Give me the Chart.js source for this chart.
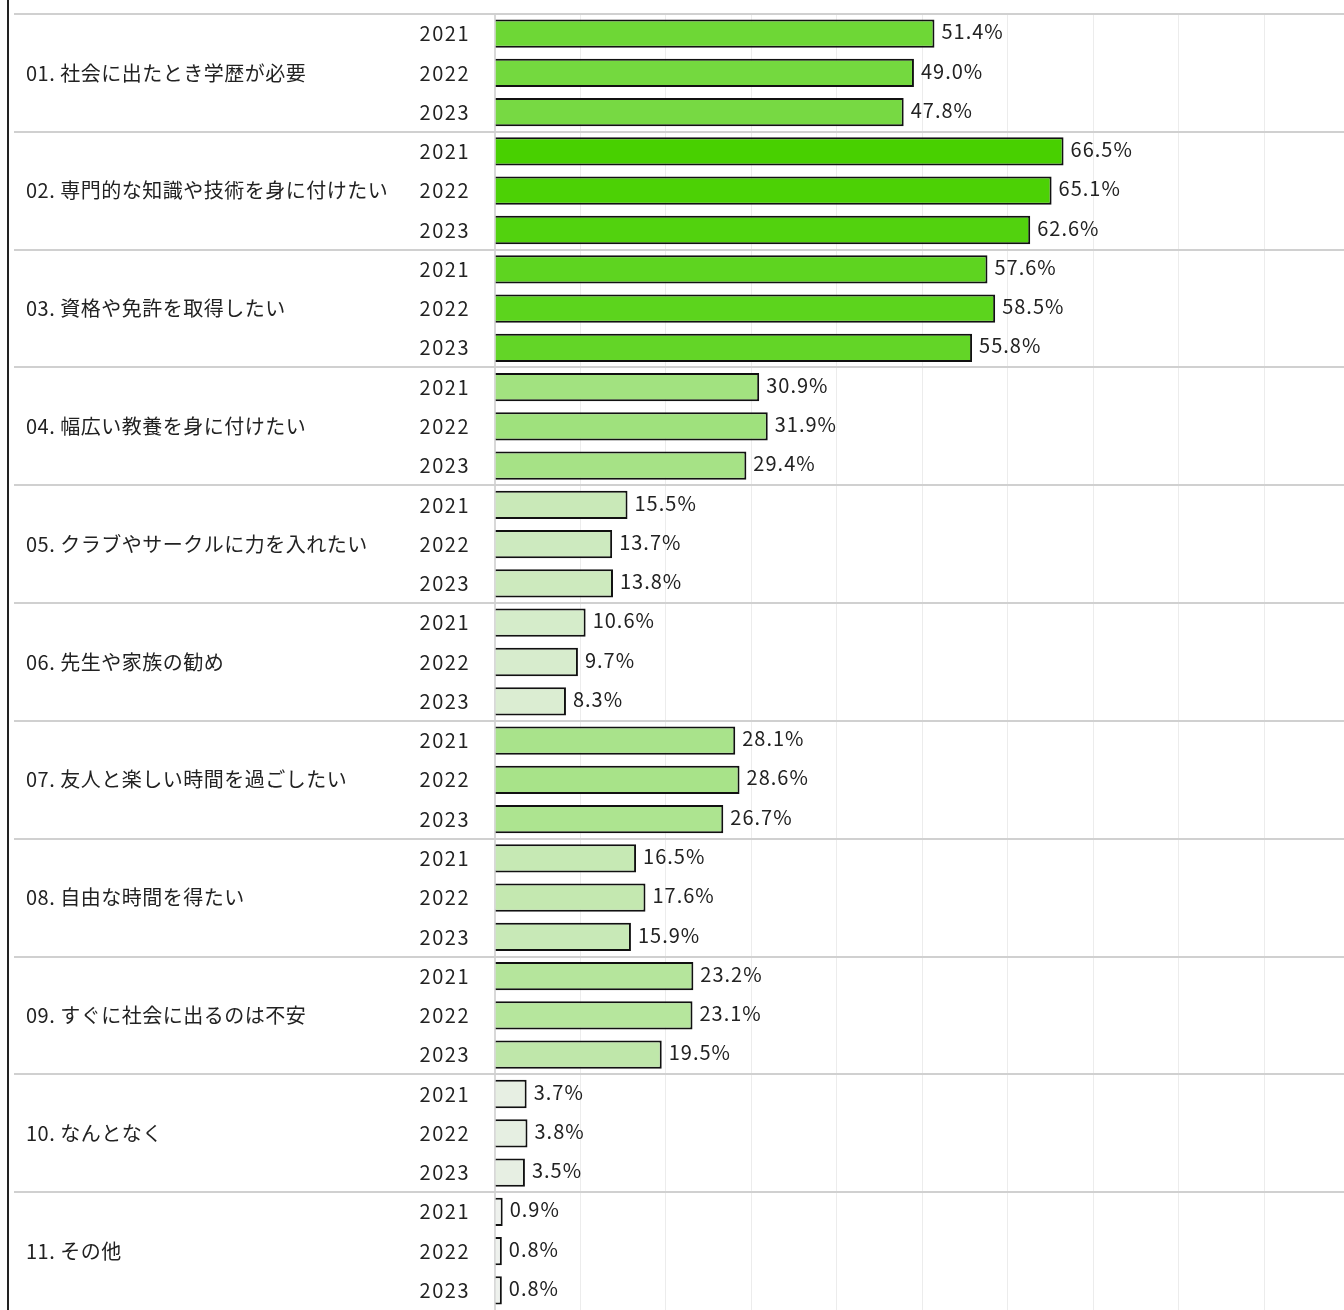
<!DOCTYPE html>
<html lang="ja">
<head>
<meta charset="utf-8">
<title>進学理由</title>
<script src="https://cdn.jsdelivr.net/npm/chart.js@4/dist/chart.umd.min.js"></script>
<style>
  html, body { margin: 0; padding: 0; background: #fff; }
  #wrap { position: relative; width: 1344px; height: 1310px; overflow: hidden; }
</style>
</head>
<body>
<div id="wrap"><canvas id="chart" width="1344" height="1310"></canvas></div>
<script>
// Data
const categories = [
    '01. 社会に出たとき学歴が必要',
    '02. 専門的な知識や技術を身に付けたい',
    '03. 資格や免許を取得したい',
    '04. 幅広い教養を身に付けたい',
    '05. クラブやサークルに力を入れたい',
    '06. 先生や家族の勧め',
    '07. 友人と楽しい時間を過ごしたい',
    '08. 自由な時間を得たい',
    '09. すぐに社会に出るのは不安',
    '10. なんとなく',
    '11. その他'
];
const years = ['2021', '2022', '2023'];
const values2021 = [51.4, 66.5, 57.6, 30.9, 15.5, 10.6, 28.1, 16.5, 23.2, 3.7, 0.9];
const values2022 = [49.0, 65.1, 58.5, 31.9, 13.7, 9.7, 28.6, 17.6, 23.1, 3.8, 0.8];
const values2023 = [47.8, 62.6, 55.8, 29.4, 13.8, 8.3, 26.7, 15.9, 19.5, 3.5, 0.8];
const xTicks = [0, 10, 20, 30, 40, 50, 60, 70, 80, 90];

const FONT = '"Noto Sans CJK JP", "Noto Sans", sans-serif';

// flatten: one bar per category/year
const labels = [];
const values = [];
categories.forEach((c, i) => {
    [values2021, values2022, values2023].forEach((arr, j) => {
        labels.push(years[j]);
        values.push(arr[i]);
    });
});

// colour scale: pale grey -> strong green by value
const maxVal = Math.max(...values);
function barColor(v) {
    const t = v / maxVal;
    const lo = [240, 241, 240], hi = [72, 208, 0];
    const c = lo.map((l, k) => Math.round(l + (hi[k] - l) * t));
    return `rgb(${c[0]},${c[1]},${c[2]})`;
}

// category labels, year labels, separators and value labels
const groupPlugin = {
    id: 'groups',
    afterDraw(chart) {
        const ctx = chart.ctx;
        const y = chart.scales.y;
        const step = y.getPixelForValue(1) - y.getPixelForValue(0);
        ctx.save();
        // separators
        ctx.strokeStyle = '#d0d0d0';
        ctx.lineWidth = 2;
        for (let i = 0; i < categories.length; i++) {
            const top = Math.round(y.getPixelForValue(i * 3) - step / 2);
            ctx.beginPath();
            ctx.moveTo(14, top);
            ctx.lineTo(chart.width, top);
            ctx.stroke();
        }
        // left frame line
        ctx.strokeStyle = '#222';
        ctx.beginPath();
        ctx.moveTo(8, 0);
        ctx.lineTo(8, chart.height);
        ctx.stroke();

        ctx.fillStyle = '#222';
        ctx.font = '20px ' + FONT;
        ctx.textBaseline = 'middle';
        // category labels
        ctx.letterSpacing = '0.5px';
        ctx.textAlign = 'left';
        categories.forEach((c, i) => {
            ctx.fillText(c, 26, y.getPixelForValue(i * 3 + 1));
        });
        // year labels
        ctx.letterSpacing = '1.5px';
        ctx.textAlign = 'right';
        labels.forEach((l, i) => {
            ctx.fillText(l, 470, y.getPixelForValue(i));
        });
        // value labels
        ctx.letterSpacing = '1px';
        ctx.textAlign = 'left';
        const meta = chart.getDatasetMeta(0);
        meta.data.forEach((bar, i) => {
            ctx.fillText(values[i].toFixed(1) + '%', bar.x + 7, bar.y - 2);
        });
        ctx.restore();
    }
};

new Chart(document.getElementById('chart'), {
    type: 'bar',
    data: {
        labels: labels,
        datasets: [{
            data: values,
            backgroundColor: values.map(barColor),
            borderColor: '#111',
            borderWidth: 2,
            borderSkipped: 'start',
            barPercentage: 0.72,
            categoryPercentage: 1
        }]
    },
    options: {
        indexAxis: 'y',
        responsive: false,
        animation: false,
        layout: { padding: { top: 14, right: 0, bottom: 0, left: 0 } },
        plugins: {
            legend: { display: false },
            tooltip: { enabled: false }
        },
        scales: {
            x: {
                min: 0,
                max: 99.3,
                afterBuildTicks: scale => { scale.ticks = xTicks.map(v => ({ value: v })); },
                afterFit: scale => { scale.height = 0; },
                ticks: { display: false },
                grid: { color: '#ececec', lineWidth: 1, drawTicks: false },
                border: { display: false }
            },
            y: {
                afterFit: scale => { scale.width = 495; },
                ticks: { display: false },
                grid: { display: false, drawTicks: false },
                border: { color: '#d8d8d8', width: 2 }
            }
        }
    },
    plugins: [groupPlugin]
});
</script>
</body>
</html>
